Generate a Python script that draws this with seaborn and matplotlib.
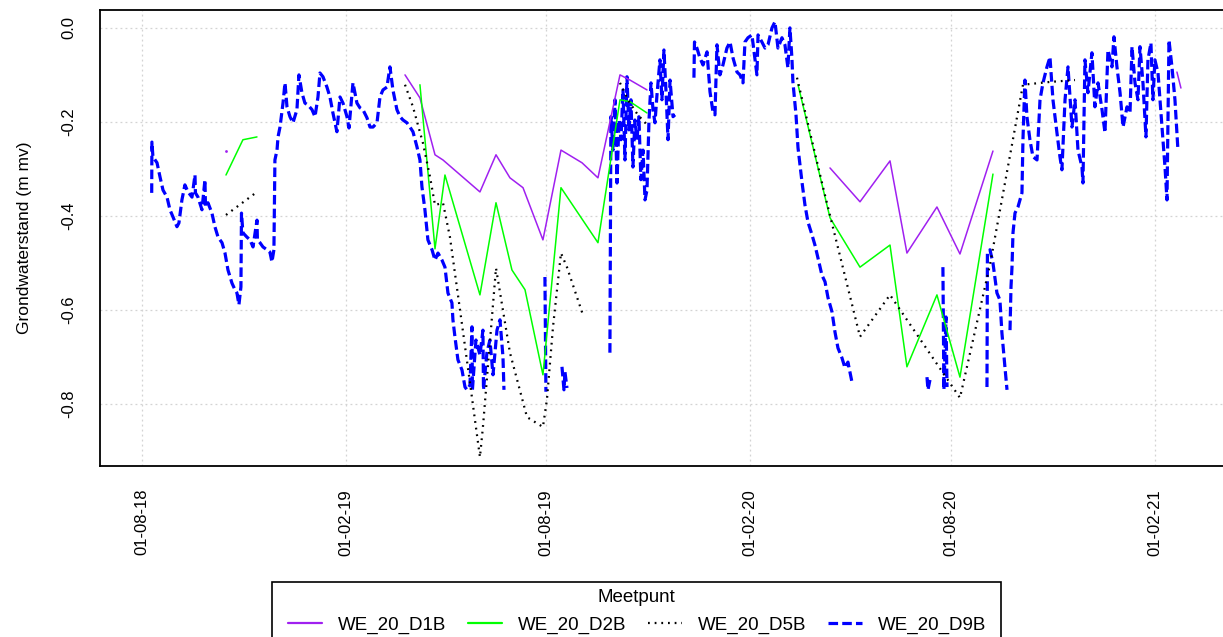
import numpy as np
import pandas as pd
import matplotlib
matplotlib.use("Agg")
import matplotlib.pyplot as plt
import seaborn as sns
from matplotlib.lines import Line2D
from matplotlib.patches import Rectangle

nan = np.nan
START = "2018-08-01"   # day 0 of the day offsets below

SERIES = ["WE_20_D1B", "WE_20_D2B", "WE_20_D5B", "WE_20_D9B"]
COLORS = ["#A020F0", "#00FF00", "#000000", "#0000FF"]

# ---- data: days since 2018-08-01, groundwater level (m mv); nan = gap ----
D1B_DAYS = [75.9, nan, 237.6, 251.1, 264.7, 271.9, 305.3, 319.8, 332.4, 344.2, 362.2, 378.5,
            397.5, 411.9, 431.8, 440.8, 456.2, nan, 621.5, 648.6, 675.7, 691.0, 718.1, 738.9,
            768.7, nan, 934.9, 938.5]
D1B_VALS = [-0.262, nan, -0.100, -0.149, -0.270, -0.281, -0.349, -0.270, -0.319, -0.340, -0.451,
            -0.260, -0.287, -0.319, -0.100, -0.111, -0.132, nan, -0.298, -0.370, -0.283, -0.479,
            -0.381, -0.481, -0.262, nan, -0.094, -0.128]

D2B_DAYS = [75.9, 91.2, 103.9, nan, 251.1, 264.7, 273.7, 305.3, 319.8, 334.2, 346.0, 362.2,
            378.5, 411.9, 431.8, 440.8, 456.2, nan, 592.6, 621.5, 648.6, 675.7, 691.0, 718.1,
            738.9, 768.7]
D2B_VALS = [-0.313, -0.238, -0.232, nan, -0.121, -0.470, -0.313, -0.568, -0.372, -0.515, -0.557,
            -0.738, -0.340, -0.457, -0.153, -0.157, -0.181, nan, -0.121, -0.404, -0.509, -0.462,
            -0.721, -0.568, -0.743, -0.311]

D5B_DAYS = [75.9, 103.9, nan, 237.6, 244.8, 253.8, 260.2, 264.7, 271.9, 278.2, 287.3, 296.3,
            305.3, 308.0, 319.8, 332.4, 347.8, 362.2, 365.8, 371.3, 378.5, 383.9, 398.4, nan,
            431.8, 438.9, 447.9, 456.2, nan, 591.7, 615.1, 648.6, 675.7, 738.9, 766.0, 795.8,
            820.2, 842.8]
D5B_VALS = [-0.398, -0.349, nan, -0.121, -0.168, -0.245, -0.317, -0.377, -0.372, -0.445, -0.600,
            -0.755, -0.913, -0.849, -0.511, -0.691, -0.828, -0.849, -0.791, -0.636, -0.479,
            -0.509, -0.611, nan, -0.117, -0.153, -0.185, -0.206, nan, -0.106, -0.338, -0.657,
            -0.568, -0.787, -0.504, -0.121, -0.115, -0.111]

D9B_DAYS = [
    8.8, 9.0, 9.9, 13.6, 16.3, 19.0, 22.6, 25.3, 28.0, 31.6, 33.4, 36.1, 38.8, 41.6, 45.2, 47.9,
    48.3, 50.6, 54.2, 56.9, 57.4, 59.6, 63.2, 65.9, 68.7, 72.3, 75.0, 77.7, 81.3, 84.0, 85.8,
    87.6, 89.4, 89.9, 91.2, 94.8, 97.6, 100.3, 103.9, 104.3, 106.6, 109.3, 112.9, 115.6, 117.4,
    119.2, 120.1, 122.0, 122.9, 124.7, 127.4, 129.2, 131.0, 133.7, 136.4, 140.0, 141.8, 144.5,
    147.2, 149.9, 153.6, 156.3, 159.0, 160.8, 163.5, 167.1, 169.8, 172.5, 176.1, 178.9, 181.6,
    185.2, 187.0, 190.6, 194.2, 196.9, 199.6, 203.2, 206.0, 208.7, 212.3, 215.0, 217.7, 221.3,
    224.0, 226.7, 230.3, 233.1, 235.8, 239.4, 242.1, 244.8, 248.4, 251.1, 252.9, 255.6, 258.3,
    262.0, 264.7, 267.4, 271.0, 273.7, 276.4, 280.0, 280.9, 282.7, 285.4, 289.1, 291.8, 293.6,
    296.3, 298.1, 298.5, 301.7, 305.3, 308.0, 308.5, 311.6, 314.3, 317.1, 320.7, 323.4, 326.1,
    327.0,
    nan, 364.0, 364.9,
    nan, 379.4, 381.2, 382.1, 383.9,
    nan, 422.7, 423.6, 425.5, 427.3, 429.1, 430.9, 432.7, 434.5, 436.3, 438.1, 439.9, 441.7,
    443.5, 445.3, 447.1, 448.9, 450.7, 452.6, 454.4, 456.2, 458.0, 459.8, 461.6, 463.4, 465.2,
    467.9, 469.7, 471.5, 473.3, 475.2, 477.0, 479.7, 481.5,
    nan, 498.6, 499.1, 501.3, 504.0, 506.8, 510.4, 513.1, 515.8, 517.6, 519.4, 522.1, 524.8,
    528.4, 531.2, 533.9, 537.5, 540.2, 542.9, 544.7, 547.4, 551.0, 555.5, 556.5, 560.0, 562.8,
    565.5, 569.1, 571.8, 574.5, 578.1, 580.8, 583.5, 585.3, 587.1, 588.0, 590.8, 592.6, 596.2,
    598.9, 601.6, 605.2, 607.9, 610.6, 614.2, 617.0, 619.7, 623.3, 626.0, 628.7, 632.3, 635.0,
    637.7, 641.3,
    nan, 709.1, 710.0, 711.8,
    nan, 723.5, 724.4, 726.3, 727.2,
    nan, 763.3, 763.7, 766.0, 768.7, 772.3, 775.0, 776.8, 779.5, 781.4,
    nan, 784.1, 785.0, 785.9, 786.8, 788.6, 791.3, 794.9, 795.8, 797.6, 799.4, 802.1, 804.8,
    808.5, 811.2, 813.9, 817.5, 820.2, 822.9, 826.5, 829.2, 831.0, 833.8, 836.5, 840.1, 842.8,
    845.5, 849.1, 850.0, 851.8, 854.5, 858.1, 860.8, 863.6, 867.2, 869.9, 872.6, 876.2, 878.0,
    880.7, 883.5, 886.2, 889.8, 892.5, 894.3, 897.0, 899.7, 901.5, 904.2, 906.9, 908.7, 911.4,
    913.2, 915.0, 917.8, 921.4, 924.1, 925.9, 927.7, 930.4, 933.1, 935.8]
D9B_VALS = [
    -0.351, -0.243, -0.274, -0.287, -0.317, -0.345, -0.360, -0.387, -0.402, -0.423, -0.415,
    -0.366, -0.334, -0.349, -0.360, -0.313, -0.351, -0.360, -0.387, -0.323, -0.381, -0.372,
    -0.394, -0.423, -0.445, -0.457, -0.479, -0.515, -0.543, -0.557, -0.564, -0.589, -0.551,
    -0.394, -0.436, -0.445, -0.451, -0.466, -0.409, -0.451, -0.457, -0.466, -0.472, -0.477,
    -0.498, -0.472, -0.281, -0.260, -0.232, -0.211, -0.160, -0.117, -0.168, -0.189, -0.202,
    -0.174, -0.100, -0.138, -0.160, -0.164, -0.174, -0.189, -0.147, -0.096, -0.104, -0.126,
    -0.147, -0.181, -0.221, -0.147, -0.160, -0.189, -0.213, -0.117, -0.160, -0.170, -0.174,
    -0.191, -0.211, -0.211, -0.202, -0.147, -0.132, -0.126, -0.083, -0.132, -0.174, -0.189,
    -0.196, -0.202, -0.211, -0.221, -0.253, -0.281, -0.338, -0.387, -0.451, -0.472, -0.494,
    -0.479, -0.494, -0.509, -0.564, -0.585, -0.621, -0.657, -0.706, -0.728, -0.764, -0.770,
    -0.760, -0.636, -0.770, -0.664, -0.696, -0.643, -0.770, -0.691, -0.664, -0.738, -0.643,
    -0.621, -0.700, -0.770,
    nan, -0.530, -0.774,
    nan, -0.721, -0.770, -0.732, -0.766,
    nan, -0.691, -0.189, -0.260, -0.153, -0.330, -0.196, -0.238, -0.132, -0.281, -0.104,
    -0.217, -0.153, -0.296, -0.196, -0.238, -0.189, -0.323, -0.260, -0.366, -0.345, -0.196,
    -0.117, -0.174, -0.202, -0.143, -0.068, -0.153, -0.047, -0.132, -0.238, -0.111, -0.189,
    -0.185,
    nan, -0.106, -0.030, -0.043, -0.064, -0.079, -0.051, -0.136, -0.179, -0.185, -0.036,
    -0.100, -0.079, -0.043, -0.030, -0.064, -0.094, -0.100, -0.117, -0.030, -0.021, -0.015,
    -0.100, -0.015, -0.030, -0.043, -0.036, 0.000, 0.013, -0.043, -0.021, -0.036, -0.085,
    0.000, -0.064, -0.115, -0.185, -0.255, -0.328, -0.377, -0.413, -0.440, -0.462, -0.489,
    -0.526, -0.540, -0.574, -0.604, -0.647, -0.681, -0.702, -0.723, -0.711, -0.753,
    nan, -0.743, -0.770, -0.749,
    nan, -0.509, -0.770, -0.615, -0.764,
    nan, -0.764, -0.479, -0.472, -0.500, -0.564, -0.579, -0.649, -0.721, -0.770,
    nan, -0.643, -0.551, -0.509, -0.436, -0.394, -0.381, -0.351, -0.238, -0.111, -0.189,
    -0.238, -0.274, -0.281, -0.153, -0.117, -0.083, -0.062, -0.153, -0.223, -0.274, -0.302,
    -0.153, -0.083, -0.211, -0.153, -0.260, -0.296, -0.330, -0.068, -0.138, -0.053, -0.168,
    -0.117, -0.174, -0.223, -0.047, -0.083, -0.019, -0.083, -0.138, -0.211, -0.168, -0.181,
    -0.040, -0.117, -0.153, -0.040, -0.117, -0.232, -0.068, -0.032, -0.153, -0.068, -0.096,
    -0.211, -0.296, -0.366, -0.026, -0.083, -0.153, -0.260]

XTICK_DATES = ["2018-08-01", "2019-02-01", "2019-08-01", "2020-02-01", "2020-08-01", "2021-02-01"]
XTICK_LABELS = ["01-08-18", "01-02-19", "01-08-19", "01-02-20", "01-08-20", "01-02-21"]
YTICKS = [0.0, -0.2, -0.4, -0.6, -0.8]
YTICK_LABELS = ["0.0", "-0.2", "-0.4", "-0.6", "-0.8"]
YLABEL = "Grondwaterstand (m mv)"
LEGEND_TITLE = "Meetpunt"


def to_frame(days, vals):
    days = np.asarray(days, float)
    vals = np.asarray(vals, float)
    seg = np.cumsum(np.isnan(days))
    ok = ~np.isnan(days)
    return pd.DataFrame({
        "date": pd.Timestamp(START) + pd.to_timedelta(days[ok], unit="D"),
        "value": vals[ok],
        "seg": seg[ok],
    })


sns.set_style("white")
plt.rcParams["font.family"] = ["Liberation Sans", "DejaVu Sans"]
plt.rcParams["text.color"] = "black"
plt.rcParams["axes.labelcolor"] = "black"
plt.rcParams["xtick.color"] = "black"
plt.rcParams["ytick.color"] = "black"

W, H = 1223, 637
fig = plt.figure(figsize=(W / 100, H / 100), dpi=100)
ax = fig.add_axes([100 / W, 1 - 466 / H, 1 - 100 / W, (466 - 10) / H])

styles = {
    "WE_20_D9B": dict(lw=2.3, ls=(0, (3.0, 1.3)), z=2),
    "WE_20_D1B": dict(lw=1.1, ls="-", z=3),
    "WE_20_D2B": dict(lw=1.1, ls="-", z=4),
    "WE_20_D5B": dict(lw=1.6, ls=(0, (0.8, 2.2)), z=5),
}
data = {
    "WE_20_D1B": (D1B_DAYS, D1B_VALS),
    "WE_20_D2B": (D2B_DAYS, D2B_VALS),
    "WE_20_D5B": (D5B_DAYS, D5B_VALS),
    "WE_20_D9B": (D9B_DAYS, D9B_VALS),
}

for name in ["WE_20_D9B", "WE_20_D1B", "WE_20_D2B", "WE_20_D5B"]:
    df = to_frame(*data[name])
    color = COLORS[SERIES.index(name)]
    st = styles[name]
    counts = df.groupby("seg")["value"].transform("size")
    multi = df[counts > 1]
    single = df[counts == 1]
    sns.lineplot(data=multi, x="date", y="value", units="seg", estimator=None, sort=False,
                 color=color, linewidth=st["lw"], linestyle=st["ls"], ax=ax, legend=False,
                 zorder=st["z"])
    if len(single):
        sns.scatterplot(data=single, x="date", y="value", color=color, s=4, linewidth=0,
                        ax=ax, legend=False, zorder=st["z"])

# axes limits (view window of the original plot)
ax.set_xlim(pd.Timestamp(START) - pd.Timedelta(days=37.9),
            pd.Timestamp(START) + pd.Timedelta(days=976.5))
ax.set_ylim(-0.932, 0.038)

ax.set_xticks(pd.to_datetime(XTICK_DATES))
ax.set_xticklabels(XTICK_LABELS, rotation=90, fontsize=12)
ax.set_yticks(YTICKS)
ax.set_yticklabels(YTICK_LABELS, rotation=90, va="center", fontsize=12)
ax.tick_params(axis="both", direction="out", length=8.5, width=1.0, color="black",
               labelcolor="black")
ax.tick_params(axis="y", pad=8.5)
ax.tick_params(axis="x", pad=8)
ax.set_xlabel("")
ax.set_ylabel(YLABEL, fontsize=12.5, color="black")
ax.yaxis.set_label_coords(-0.0606, 0.5)

ax.grid(True, color="#D3D3D3", linestyle=(0, (1.5, 2.5)), linewidth=0.9)
ax.set_axisbelow(True)
for side in ["left", "bottom", "top"]:
    ax.spines[side].set_visible(True)
    ax.spines[side].set_color("black")
    ax.spines[side].set_linewidth(1.3)
ax.spines["right"].set_visible(False)

# legend box (extends below the figure edge like the original)
fig.add_artist(Rectangle((272 / W, 1 - 660 / H), (1001 - 272) / W, (660 - 582) / H,
                         transform=fig.transFigure, fill=False, edgecolor="black",
                         linewidth=1.2, clip_on=False))
fig.text(636.5 / W, 1 - 598 / H, LEGEND_TITLE, ha="center", va="center", fontsize=13.5,
         color="black")
handles = [Line2D([], [], color=COLORS[SERIES.index(n)], linewidth=max(styles[n]["lw"], 1.6),
                  linestyle=styles[n]["ls"]) for n in SERIES]
leg = fig.legend(handles, SERIES, loc="center left", bbox_to_anchor=(288 / W, 1 - 625 / H),
                 ncol=4, frameon=False, fontsize=13.5, handlelength=1.8, handletextpad=0.85,
                 columnspacing=1.17, borderpad=0, borderaxespad=0)
for t in leg.get_texts():
    t.set_color("black")

fig.savefig("out.png", dpi=100)
